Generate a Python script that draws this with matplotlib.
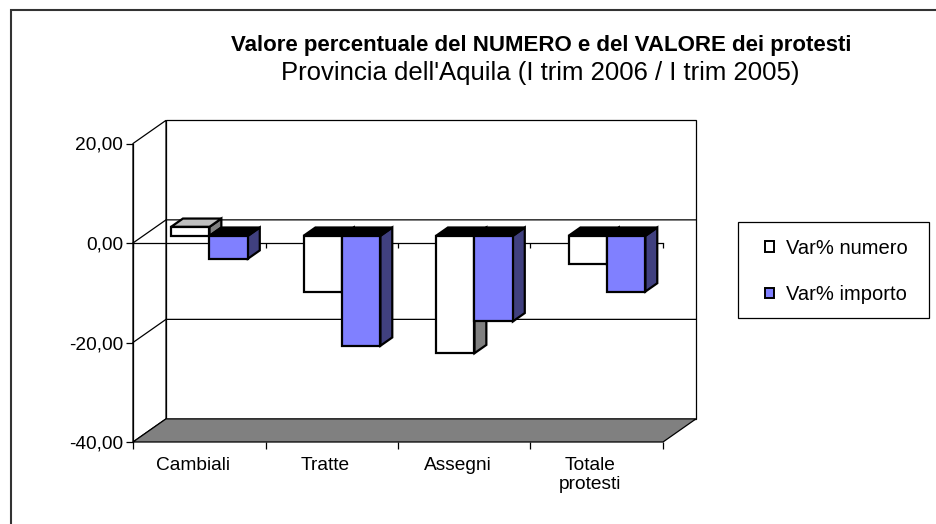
import matplotlib
matplotlib.use("Agg")
import matplotlib.pyplot as plt
from matplotlib.patches import Polygon, Patch, Rectangle

plt.rcParams["font.family"] = ["Liberation Sans", "DejaVu Sans"]

# data
categories = ["Cambiali", "Tratte", "Assegni", "Totale\nprotesti"]
var_numero = [1.8, -11.2, -23.6, -5.6]
var_importo = [-4.6, -22.1, -17.2, -11.2]
series_names = ["Var% numero", "Var% importo"]
y_ticks = [-40, -20, 0, 20]

title = "Valore percentuale del NUMERO e del VALORE dei protesti"
subtitle = "Provincia dell'Aquila (I trim 2006 / I trim 2005)"

# fake-3D geometry (data units)
DX, DY = 0.249, 4.65        # full depth of the box
FRONT, BAR_D = 0.31, 0.36   # bar front depth, bar thickness (fractions of depth)
W = 0.29                    # bar width
YMIN, YMAX = -40, 20
N = len(categories)
FS = 13.8

W_PX, H_PX = 937, 524
fig = plt.figure(figsize=(W_PX / 100, H_PX / 100), dpi=100)
ax = fig.add_axes([133 / W_PX, 1 - 442 / H_PX, 530 / W_PX, 298.5 / H_PX])
ax.set_xlim(0, N)
ax.set_ylim(YMIN, YMAX)
ax.patch.set_visible(False)
for s in ["top", "right", "bottom"]:
    ax.spines[s].set_visible(False)
ax.spines["left"].set_linewidth(0.9)

wall_kw = dict(ec="black", lw=0.9, clip_on=False)
# back wall
ax.add_patch(Polygon([(DX, YMIN + DY), (DX, YMAX + DY), (N + DX, YMAX + DY), (N + DX, YMIN + DY)],
                     fc="white", zorder=0.5, **wall_kw))
# left wall
ax.add_patch(Polygon([(0, YMIN), (0, YMAX), (DX, YMAX + DY), (DX, YMIN + DY)],
                     fc="white", zorder=0.6, **wall_kw))
# floor
ax.add_patch(Polygon([(0, YMIN), (N, YMIN), (N + DX, YMIN + DY), (DX, YMIN + DY)],
                     fc="#808080", zorder=0.7, **wall_kw))
# gridlines on walls
for yv in y_ticks[1:-1]:
    ax.plot([0, DX, N + DX], [yv, yv + DY, yv + DY], color="black", lw=0.9,
            zorder=0.8, clip_on=False)

# category axis at zero, with tick marks at boundaries
ax.plot([0, N], [0, 0], color="black", lw=0.9, zorder=1, clip_on=False)
ax.vlines(range(N + 1), 0, -1.0, color="black", lw=0.9, zorder=1, clip_on=False)

series = [
    (var_numero, "white", "#808080", "#C0C0C0"),
    (var_importo, "#8080FF", "#40407F", "#40407F"),
]
ddx, ddy = BAR_D * DX, BAR_D * DY
y0 = FRONT * DY
for i in range(N):
    for j, (vals, face, side, top_pos) in enumerate(series):
        v = vals[i]
        xl = i + 0.5 - W + j * W + FRONT * DX
        xr = xl + W
        z = 3 + i + j * 0.3
        ax.add_patch(Polygon([(xr, y0), (xr, y0 + v), (xr + ddx, y0 + v + ddy), (xr + ddx, y0 + ddy)],
                             fc=side, ec="black", lw=1.6, zorder=z, clip_on=False))
        yt = y0 + v if v > 0 else y0
        ax.add_patch(Polygon([(xl, yt), (xr, yt), (xr + ddx, yt + ddy), (xl + ddx, yt + ddy)],
                             fc=top_pos if v > 0 else "black", ec="black", lw=1.6,
                             zorder=z + 0.1, clip_on=False))
        ax.bar(xl, v, width=W, bottom=y0, align="edge", color=face, ec="black",
               lw=1.6, zorder=z + 0.2, clip_on=False)

ax.set_yticks(y_ticks, [f"{t:.2f}".replace(".", ",") for t in y_ticks])
ax.tick_params(axis="y", direction="out", length=5, width=0.9, pad=2, labelsize=FS)
ax.set_xticks([i + 0.45 for i in range(N)], categories)
ax.set_xticks(range(N + 1), minor=True)
ax.tick_params(axis="x", which="major", length=0, pad=11, labelsize=FS)
ax.tick_params(axis="x", which="minor", direction="out", length=5, width=0.9)
for lab in ax.get_xticklabels():
    lab.set_linespacing(1.1)

fig.text(541 / W_PX, 1 - 46 / H_PX, title, ha="center", va="center",
         fontsize=16, fontweight="bold")
fig.text(540 / W_PX, 1 - 73 / H_PX, subtitle, ha="center", va="center", fontsize=18.5)

# legend: frame drawn separately so the padding can match the reference
fig.add_artist(Rectangle((738 / W_PX, 1 - 318 / H_PX), 191 / W_PX, 96 / H_PX,
                         transform=fig.transFigure, fc="white", ec="black", lw=0.9))
handles = [Patch(fc=s[1], ec="black", lw=1.4) for s in series]
leg = fig.legend(handles, series_names, loc="center left",
                 bbox_to_anchor=(765 / W_PX, 1 - 271.5 / H_PX), frameon=False,
                 fontsize=14.5, handlelength=0.45, handleheight=0.45, handletextpad=0.6,
                 labelspacing=1.35, borderpad=0, borderaxespad=0)

# chart area border (runs off the right and bottom edges)
fig.add_artist(Rectangle((11 / W_PX, -0.1), 2, 1 - 10 / H_PX + 0.1, transform=fig.transFigure,
                         fill=False, ec="#333333", lw=1.5))

fig.savefig("out.png", dpi=100)
